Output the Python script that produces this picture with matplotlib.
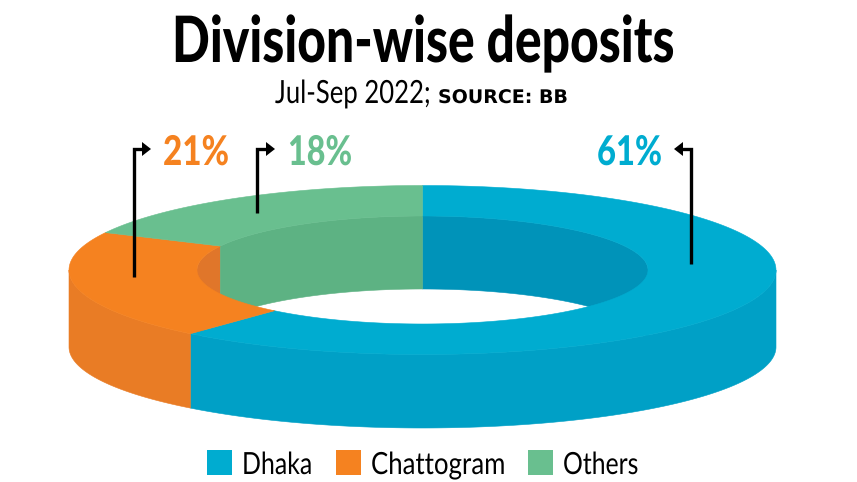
import numpy as np
import matplotlib
matplotlib.use('Agg')
import matplotlib.pyplot as plt
from matplotlib.patches import Polygon, Rectangle
from matplotlib.patheffects import AbstractPathEffect
from matplotlib.transforms import Affine2D

# data
divisions = ['Dhaka', 'Chattogram', 'Others']
shares = [61.4, 20.9, 17.7]
share_labels = ['61%', '21%', '18%']
top_colors = ['#00acd0', '#f58220', '#69bf8f']
side_colors = ['#00a0c6', '#e97c25', '#5db283']
wall_colors = ['#0093b9', '#e0762a', '#5db283']

# ring geometry in pixels
cx, cy = 422.5, 270
outer_a, outer_b = 353.5, 84.5
inner_a, inner_b = 225.5, 54
side_b, side_drop = 81, 77
wall_drop = 73

font = ['Lato', 'Open Sans', 'DejaVu Sans']

fig = plt.figure(figsize=(8.57, 4.82), dpi=100)
ax = fig.add_axes([0, 0, 1, 1])
ax.set_xlim(0, 857)
ax.set_ylim(482, 0)
ax.axis('off')
renderer = fig.canvas.get_renderer()


class Squeeze(AbstractPathEffect):
    # no condensed font is installed, so narrow the text sideways when drawn
    def __init__(self, sx, x0):
        super().__init__()
        self.sx = sx
        self.x0 = x0

    def draw_path(self, renderer, gc, tpath, affine, rgbFace=None):
        squeeze = Affine2D().translate(-self.x0, 0).scale(self.sx, 1).translate(self.x0, 0)
        renderer.draw_path(gc, tpath, affine + squeeze, rgbFace)


def fitted_text(x0, x1, baseline, string, ha='left', **kwargs):
    anchor = x0 if ha == 'left' else x1
    t = ax.text(anchor, baseline, string, ha=ha, va='baseline', **kwargs)
    width = t.get_window_extent(renderer).width
    t.set_path_effects([Squeeze((x1 - x0) / width, anchor)])
    return t


def arc(a, b, start, stop, shift=0):
    # angles are clockwise from the top of the ring
    t = np.radians(np.linspace(start, stop, 200))
    return np.column_stack([cx + a * np.sin(t), cy - b * np.cos(t) + shift])


def patch(points, color):
    ax.add_patch(Polygon(points, closed=True, facecolor=color, edgecolor=color, linewidth=0.4))


edges = np.concatenate([[0], np.cumsum(shares)]) / sum(shares) * 360

# inner wall seen through the hole, back half only; the faces cover the excess
for i in range(3):
    for offset in (0, 360):
        start, stop = max(edges[i] + offset, 270), min(edges[i + 1] + offset, 450)
        if start < stop:
            patch(np.vstack([arc(inner_a, inner_b, start, stop),
                             arc(inner_a, inner_b, stop, start, wall_drop)]), wall_colors[i])

# outer side, front half only
for i in range(3):
    start, stop = max(edges[i], 90), min(edges[i + 1], 270)
    if start < stop:
        patch(np.vstack([arc(outer_a, outer_b, start, stop),
                         arc(outer_a, side_b, stop, start, side_drop)]), side_colors[i])

# top face
for i in range(3):
    patch(np.vstack([arc(outer_a, outer_b, edges[i], edges[i + 1]),
                     arc(inner_a, inner_b, edges[i + 1], edges[i])]), top_colors[i])

# leader arrows
arrows = [
    ([691, 691, 680], [264, 149, 149], [(674, 149), (683, 142), (683, 156)]),
    ([134, 134, 145], [277, 149, 149], [(151, 149), (142, 142), (142, 156)]),
    ([257, 257, 269], [213, 149, 149], [(275, 149), (266, 142), (266, 156)]),
]
for xs, ys, head in arrows:
    ax.plot(xs, ys, color='black', lw=2.4, solid_joinstyle='miter', solid_capstyle='butt')
    ax.add_patch(Polygon(head, closed=True, facecolor='black', edgecolor='none'))

# share labels
label_spans = [(597, 662), (163, 229), (288, 352)]
for (x0, x1), label, color in zip(label_spans, share_labels, top_colors):
    fitted_text(x0, x1, 165, label, color=color, fontsize=29.5, fontweight='black', family=font)

# titles
fitted_text(172, 675, 62, 'Division-wise deposits', fontsize=46, fontweight='black', family=font, color='black')
fitted_text(275, 431, 103, 'Jul-Sep 2022;', ha='right', fontsize=23, family=font, color='black')
fitted_text(438, 568, 103, 'SOURCE: BB', fontsize=13.5, fontweight='bold', family='DejaVu Sans', color='black')

# legend
swatch_x = [207, 336, 528]
text_spans = [(242, 312), (371, 505), (563, 638)]
for sx, (x0, x1), name, color in zip(swatch_x, text_spans, divisions, top_colors):
    ax.add_patch(Rectangle((sx, 450), 25, 25, facecolor=color, edgecolor='none'))
    fitted_text(x0, x1, 474, name, fontsize=22, family=font, color='black')

plt.savefig('out.png', dpi=100)
